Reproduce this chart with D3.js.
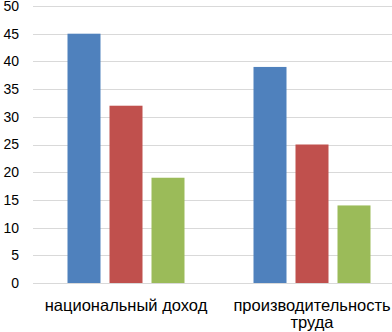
<!DOCTYPE html>
<html>
<head>
<meta charset="utf-8">
<script src="https://cdn.jsdelivr.net/npm/d3@7"></script>
<style>
  body { margin: 0; background: #fff; }
  svg { display: block; }
</style>
</head>
<body>
<div id="chart"></div>
<script>
// data
const categories = ['национальный доход', 'производительность труда'];
const series1 = [45, 39];
const series2 = [32, 25];
const series3 = [19, 14];
const yTicks = [0, 5, 10, 15, 20, 25, 30, 35, 40, 45, 50];

const colors = ['#4F81BD', '#C0504D', '#9BBB59'];

const width = 392, height = 332;
const plot = { left: 33, right: 405, top: 6, bottom: 283 };

const svg = d3.select('#chart').append('svg')
  .attr('width', width)
  .attr('height', height);

const x = d3.scaleBand()
  .domain(categories)
  .range([plot.left, plot.right]);

const y = d3.scaleLinear()
  .domain([0, 50])
  .range([plot.bottom, plot.top]);

// grid lines
svg.append('g')
  .selectAll('line')
  .data(yTicks)
  .enter().append('line')
  .attr('x1', plot.left)
  .attr('x2', width)
  .attr('y1', d => Math.round(y(d)) + 0.5)
  .attr('y2', d => Math.round(y(d)) + 0.5)
  .attr('stroke', '#D9D9D9')
  .attr('stroke-width', 1);

// y labels
svg.append('g')
  .selectAll('text')
  .data(yTicks)
  .enter().append('text')
  .attr('x', 19)
  .attr('y', d => y(d))
  .attr('dy', '0.35em')
  .attr('text-anchor', 'end')
  .attr('font-family', 'Liberation Sans, Arial, sans-serif')
  .attr('font-size', 14)
  .attr('fill', '#000')
  .text(d => d);

// bars
const barW = 33, barGap = 9;
const rows = categories.map((c, i) => ({ cat: c, values: [series1[i], series2[i], series3[i]] }));
const groups = svg.append('g')
  .selectAll('g')
  .data(rows)
  .enter().append('g');

groups.selectAll('rect')
  .data(d => d.values.map((v, j) => ({ cat: d.cat, v: v, j: j })))
  .enter().append('rect')
  .attr('x', d => x(d.cat) + x.bandwidth() / 2 + (d.j - 1) * (barW + barGap) - barW / 2)
  .attr('width', barW)
  .attr('y', d => y(d.v))
  .attr('height', d => y(0) - y(d.v))
  .attr('fill', d => colors[d.j]);

// x labels
const xLabels = [['национальный доход'], ['производительность', 'труда']];
svg.append('g')
  .selectAll('text')
  .data(categories)
  .enter().append('text')
  .attr('x', d => x(d) + x.bandwidth() / 2)
  .attr('y', 311)
  .attr('text-anchor', 'middle')
  .attr('font-family', 'Liberation Sans, Arial, sans-serif')
  .attr('font-size', 16.5)
  .attr('fill', '#000')
  .each(function (d, i) {
    d3.select(this).selectAll('tspan')
      .data(xLabels[i])
      .enter().append('tspan')
      .attr('x', x(d) + x.bandwidth() / 2)
      .attr('dy', (t, k) => k === 0 ? 0 : 17)
      .text(t => t);
  });
</script>
</body>
</html>
